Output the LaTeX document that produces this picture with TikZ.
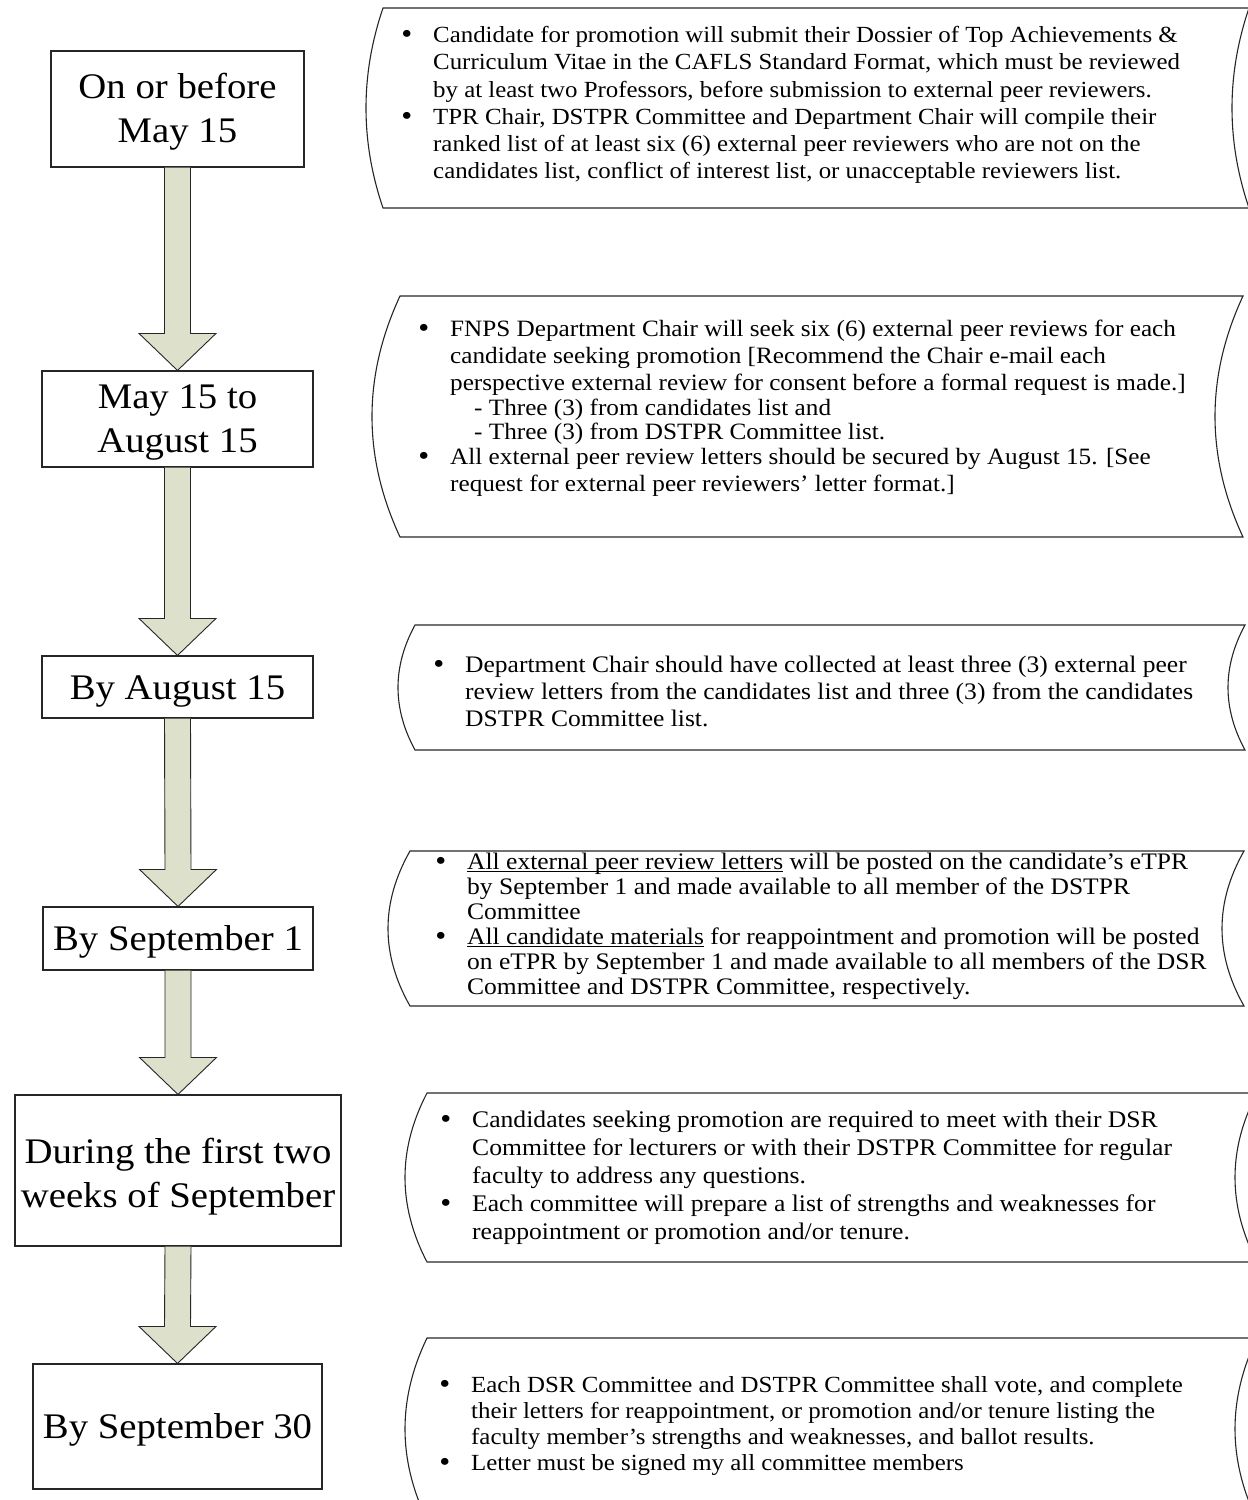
\documentclass[tikz,border=0pt]{standalone}
\usepackage{fontspec}
\setmainfont{Liberation Serif}[FakeStretch=1.077]
\usetikzlibrary{calc}
\definecolor{arrowfill}{RGB}{221,225,204}
\newcommand\myul[1]{\setbox0\hbox{#1}\rlap{\rule[-3pt]{\wd0}{0.9pt}}\box0\relax}
\newcommand\bul{\llap{\raisebox{-1pt}{\fontsize{29}{29}\selectfont •}\hspace{21pt}}}
\newcommand\blockarr[2]{\draw[blockarrow] ($(#1.south)+(-13,0)$) -- ($(#2.north)+(-13,-37)$) -- ($(#2.north)+(-38.5,-37)$) -- (#2.north) -- ($(#2.north)+(38.5,-37)$) -- ($(#2.north)+(13,-37)$) -- ($(#1.south)+(13,0)$);}
% top, bottom, left corner x, depth, right corner x
\newcommand\notebox[5]{\draw[note] (#3,#1) -- (#5,#1)
  .. controls ({#5-4*#4/3},{#1+(#2-#1)/3}) and ({#5-4*#4/3},{#2-(#2-#1)/3}) .. (#5,#2) -- (#3,#2)
  .. controls ({#3-4*#4/3},{#2-(#2-#1)/3}) and ({#3-4*#4/3},{#1+(#2-#1)/3}) .. cycle;}
\newcommand\up[1]{\rule{0pt}{#1pt}}
\begin{document}
\begin{tikzpicture}[x=1pt,y=-1pt,
  datebox/.style={draw=black!85, line width=1.1pt, fill=white, align=center, font={\fontsize{36}{44}\selectfont}, inner sep=0pt},
  blockarrow/.style={draw=black!85, line width=0.9pt, fill=arrowfill},
  note/.style={draw=black!85, line width=1.1pt},
  notetext/.style={anchor=west, align=left, inner sep=0pt}]
\useasboundingbox (0,0) rectangle (1248,1500);

% date boxes
\node[datebox, minimum width=253pt, minimum height=116pt] (d1) at (177.5,109) {\up{31}On or before\\May 15};
\node[datebox, minimum width=271pt, minimum height=96pt] (d2) at (177.5,419) {\up{30}May 15 to\\August 15};
\node[datebox, minimum width=271pt, minimum height=62pt] (d3) at (177.5,687) {\up{32}By August 15};
\node[datebox, minimum width=270pt, minimum height=63pt] (d4) at (178,938.5) {\up{32}By September 1};
\node[datebox, minimum width=326pt, minimum height=151pt] (d5) at (178,1170.5) {\up{38}During the first two\\weeks of September};
\node[datebox, minimum width=289pt, minimum height=125pt] (d6) at (177.5,1426.5) {\up{31}By September 30};

% block arrows
\blockarr{d1}{d2}
\blockarr{d2}{d3}
\blockarr{d3}{d4}
\blockarr{d4}{d5}
\blockarr{d5}{d6}

% note shapes
\notebox{8}{208}{383}{17}{1249}
\notebox{296}{537}{400}{28}{1243}
\notebox{625}{750}{415}{17}{1245}
\notebox{851}{1006}{410}{22}{1244}
\notebox{1093}{1262}{427}{22}{1257}
\notebox{1338}{1520}{427}{22}{1257}

% note texts
\node[notetext, font={\fontsize{23.1}{27.2}\selectfont}] (t1) at (433,105) {\bul Candidate for promotion will submit their Dossier of Top Achievements \&\\
Curriculum Vitae in the CAFLS Standard Format, which must be reviewed\\
by at least two Professors, before submission to external peer reviewers.\\
\bul TPR Chair, DSTPR Committee and Department Chair will compile their\\
ranked list of at least six (6) external peer reviewers who are not on the\\
candidates list, conflict of interest list, or unacceptable reviewers list.};

\node[notetext, font={\fontsize{23.4}{27}\selectfont}] (t2) at (450,408) {\bul FNPS Department Chair will seek six (6) external peer reviews for each\\
candidate seeking promotion [Recommend the Chair e-mail each\\
perspective external review for consent before a formal request is made.]\\[-2pt]
\hspace{24pt}- Three (3) from candidates list and\\[-3pt]
\hspace{24pt}- Three (3) from DSTPR Committee list.\\[-2pt]
\bul All external peer review letters should be secured by August 15. [See\\
request for external peer reviewers’ letter format.]};

\node[notetext, font={\fontsize{23.7}{27}\selectfont}] (t3) at (465,691) {\bul Department Chair should have collected at least three (3) external peer\\
review letters from the candidates list and three (3) from the candidates\\
DSTPR Committee list.};

\node[notetext, font={\fontsize{23.7}{25}\selectfont}] (t4) at (467,926) {\bul \myul{All external peer review letters} will be posted on the candidate’s eTPR\\
by September 1 and made available to all member of the DSTPR\\
Committee\\
\bul \myul{All candidate materials} for reappointment and promotion will be posted\\
on eTPR by September 1 and made available to all members of the DSR\\
Committee and DSTPR Committee, respectively.};

\node[notetext, font={\fontsize{23.8}{28}\selectfont}] (t5) at (472,1178) {\bul Candidates seeking promotion are required to meet with their DSR\\
Committee for lecturers or with their DSTPR Committee for regular\\
faculty to address any questions.\\
\bul Each committee will prepare a list of strengths and weaknesses for\\
reappointment or promotion and/or tenure.};

\node[notetext, font={\fontsize{23.1}{26}\selectfont}] (t6) at (471,1426) {\bul Each DSR Committee and DSTPR Committee shall vote, and complete\\
their letters for reappointment, or promotion and/or tenure listing the\\
faculty member’s strengths and weaknesses, and ballot results.\\
\bul Letter must be signed my all committee members};
\end{tikzpicture}
\end{document}
